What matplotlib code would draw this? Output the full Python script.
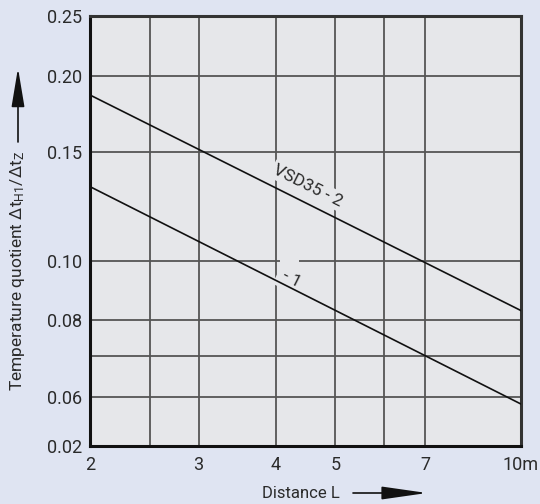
import numpy as np
import matplotlib.pyplot as plt
from matplotlib.ticker import FixedLocator, FixedFormatter, NullLocator

plt.rcParams['font.family'] = ['Roboto', 'Liberation Sans', 'DejaVu Sans']
plt.rcParams['mathtext.fontset'] = 'custom'
plt.rcParams['mathtext.rm'] = 'Roboto'
plt.rcParams['mathtext.it'] = 'Roboto'
plt.rcParams['mathtext.default'] = 'regular'

# distance L (m) and temperature quotient for the two curves
dist = [2, 10]
vsd35_2 = [0.186, 0.083]
vsd35_1 = [0.132, 0.0585]

xticks = [2, 3, 4, 5, 7, 10]
xticklabels = ['2', '3', '4', '5', '7', '10m']
xgrid = [2.5, 3, 4, 5, 6, 7]
yticks = [0.05, 0.06, 0.08, 0.10, 0.15, 0.20, 0.25]
yticklabels = ['0.02', '0.06', '0.08', '0.10', '0.15', '0.20', '0.25']
ygrid = [0.06, 0.07, 0.08, 0.10, 0.15, 0.20]

bg = '#dfe4f2'
plotbg = '#e6e7ea'
gridc = '#555555'
txtc = '#2a2a2a'

fig = plt.figure(figsize=(5.4, 5.04), dpi=100, facecolor=bg)
ax = fig.add_axes([90/540, 1 - 446/504, 431/540, 430/504], facecolor=plotbg)
ax.set_xscale('log')
ax.set_yscale('log')
ax.set_xlim(2, 10)
ax.set_ylim(0.05, 0.25)

for x in xgrid:
    ax.axvline(x, color=gridc, lw=1.3, zorder=1)
for y in ygrid:
    ax.axhline(y, color=gridc, lw=1.3, zorder=1)

ax.plot(dist, vsd35_2, color='#111111', lw=1.2, zorder=4)
ax.plot(dist, vsd35_1, color='#111111', lw=1.2, zorder=4)

ax.text(4.51, 0.1324, 'VSD35 - 2', rotation=-26.6, ha='center', va='center',
        fontsize=12.5, color=txtc, zorder=3,
        bbox=dict(boxstyle='square,pad=0.12', fc=plotbg, ec='none'))
# gap left in the 0.10 grid line where the first label was blanked out
ax.text(4.21, 0.10, '       ', ha='center', va='center', fontsize=8, zorder=2,
        bbox=dict(boxstyle='square,pad=0.0', fc=plotbg, ec='none'))
ax.text(4.24, 0.0935, '- 1', rotation=-26.6, ha='center', va='center',
        fontsize=12.5, color=txtc, zorder=3,
        bbox=dict(boxstyle='square,pad=0.3', fc=plotbg, ec='none'))

ax.xaxis.set_major_locator(FixedLocator(xticks))
ax.xaxis.set_major_formatter(FixedFormatter(xticklabels))
ax.xaxis.set_minor_locator(NullLocator())
ax.yaxis.set_major_locator(FixedLocator(yticks))
ax.yaxis.set_major_formatter(FixedFormatter(yticklabels))
ax.yaxis.set_minor_locator(NullLocator())
ax.tick_params(length=0, labelsize=13, colors=txtc)
ax.tick_params(axis='x', pad=7)
ax.tick_params(axis='y', pad=6)

for s in ['left', 'bottom']:
    ax.spines[s].set_linewidth(2.2)
    ax.spines[s].set_color('#111111')
for s in ['top', 'right']:
    ax.spines[s].set_linewidth(2.2)
    ax.spines[s].set_color('#333333')

fig.text(18/540, 1 - 271/504,
         r'Temperature quotient $\Delta t_{H1}/\Delta t_{Z}$',
         rotation=90, ha='center', va='center', fontsize=12.5, color=txtc)
fig.text(301/540, 1 - 493/504, 'Distance L', ha='center', va='center',
         fontsize=12, color=txtc)

ax.annotate('', xy=(18/540, 1 - 68/504), xytext=(18/540, 1 - 142/504),
            xycoords='figure fraction', textcoords='figure fraction',
            arrowprops=dict(arrowstyle='-|>,head_length=2.4,head_width=0.4',
                            mutation_scale=10, color='#111111', lw=1.2,
                            shrinkA=0, shrinkB=0))
ax.annotate('', xy=(427/540, 1 - 493/504), xytext=(353/540, 1 - 493/504),
            xycoords='figure fraction', textcoords='figure fraction',
            arrowprops=dict(arrowstyle='-|>,head_length=2.8,head_width=0.4',
                            mutation_scale=10, color='#111111', lw=1.2,
                            shrinkA=0, shrinkB=0))

fig.savefig('out.png', dpi=100, facecolor=bg)
